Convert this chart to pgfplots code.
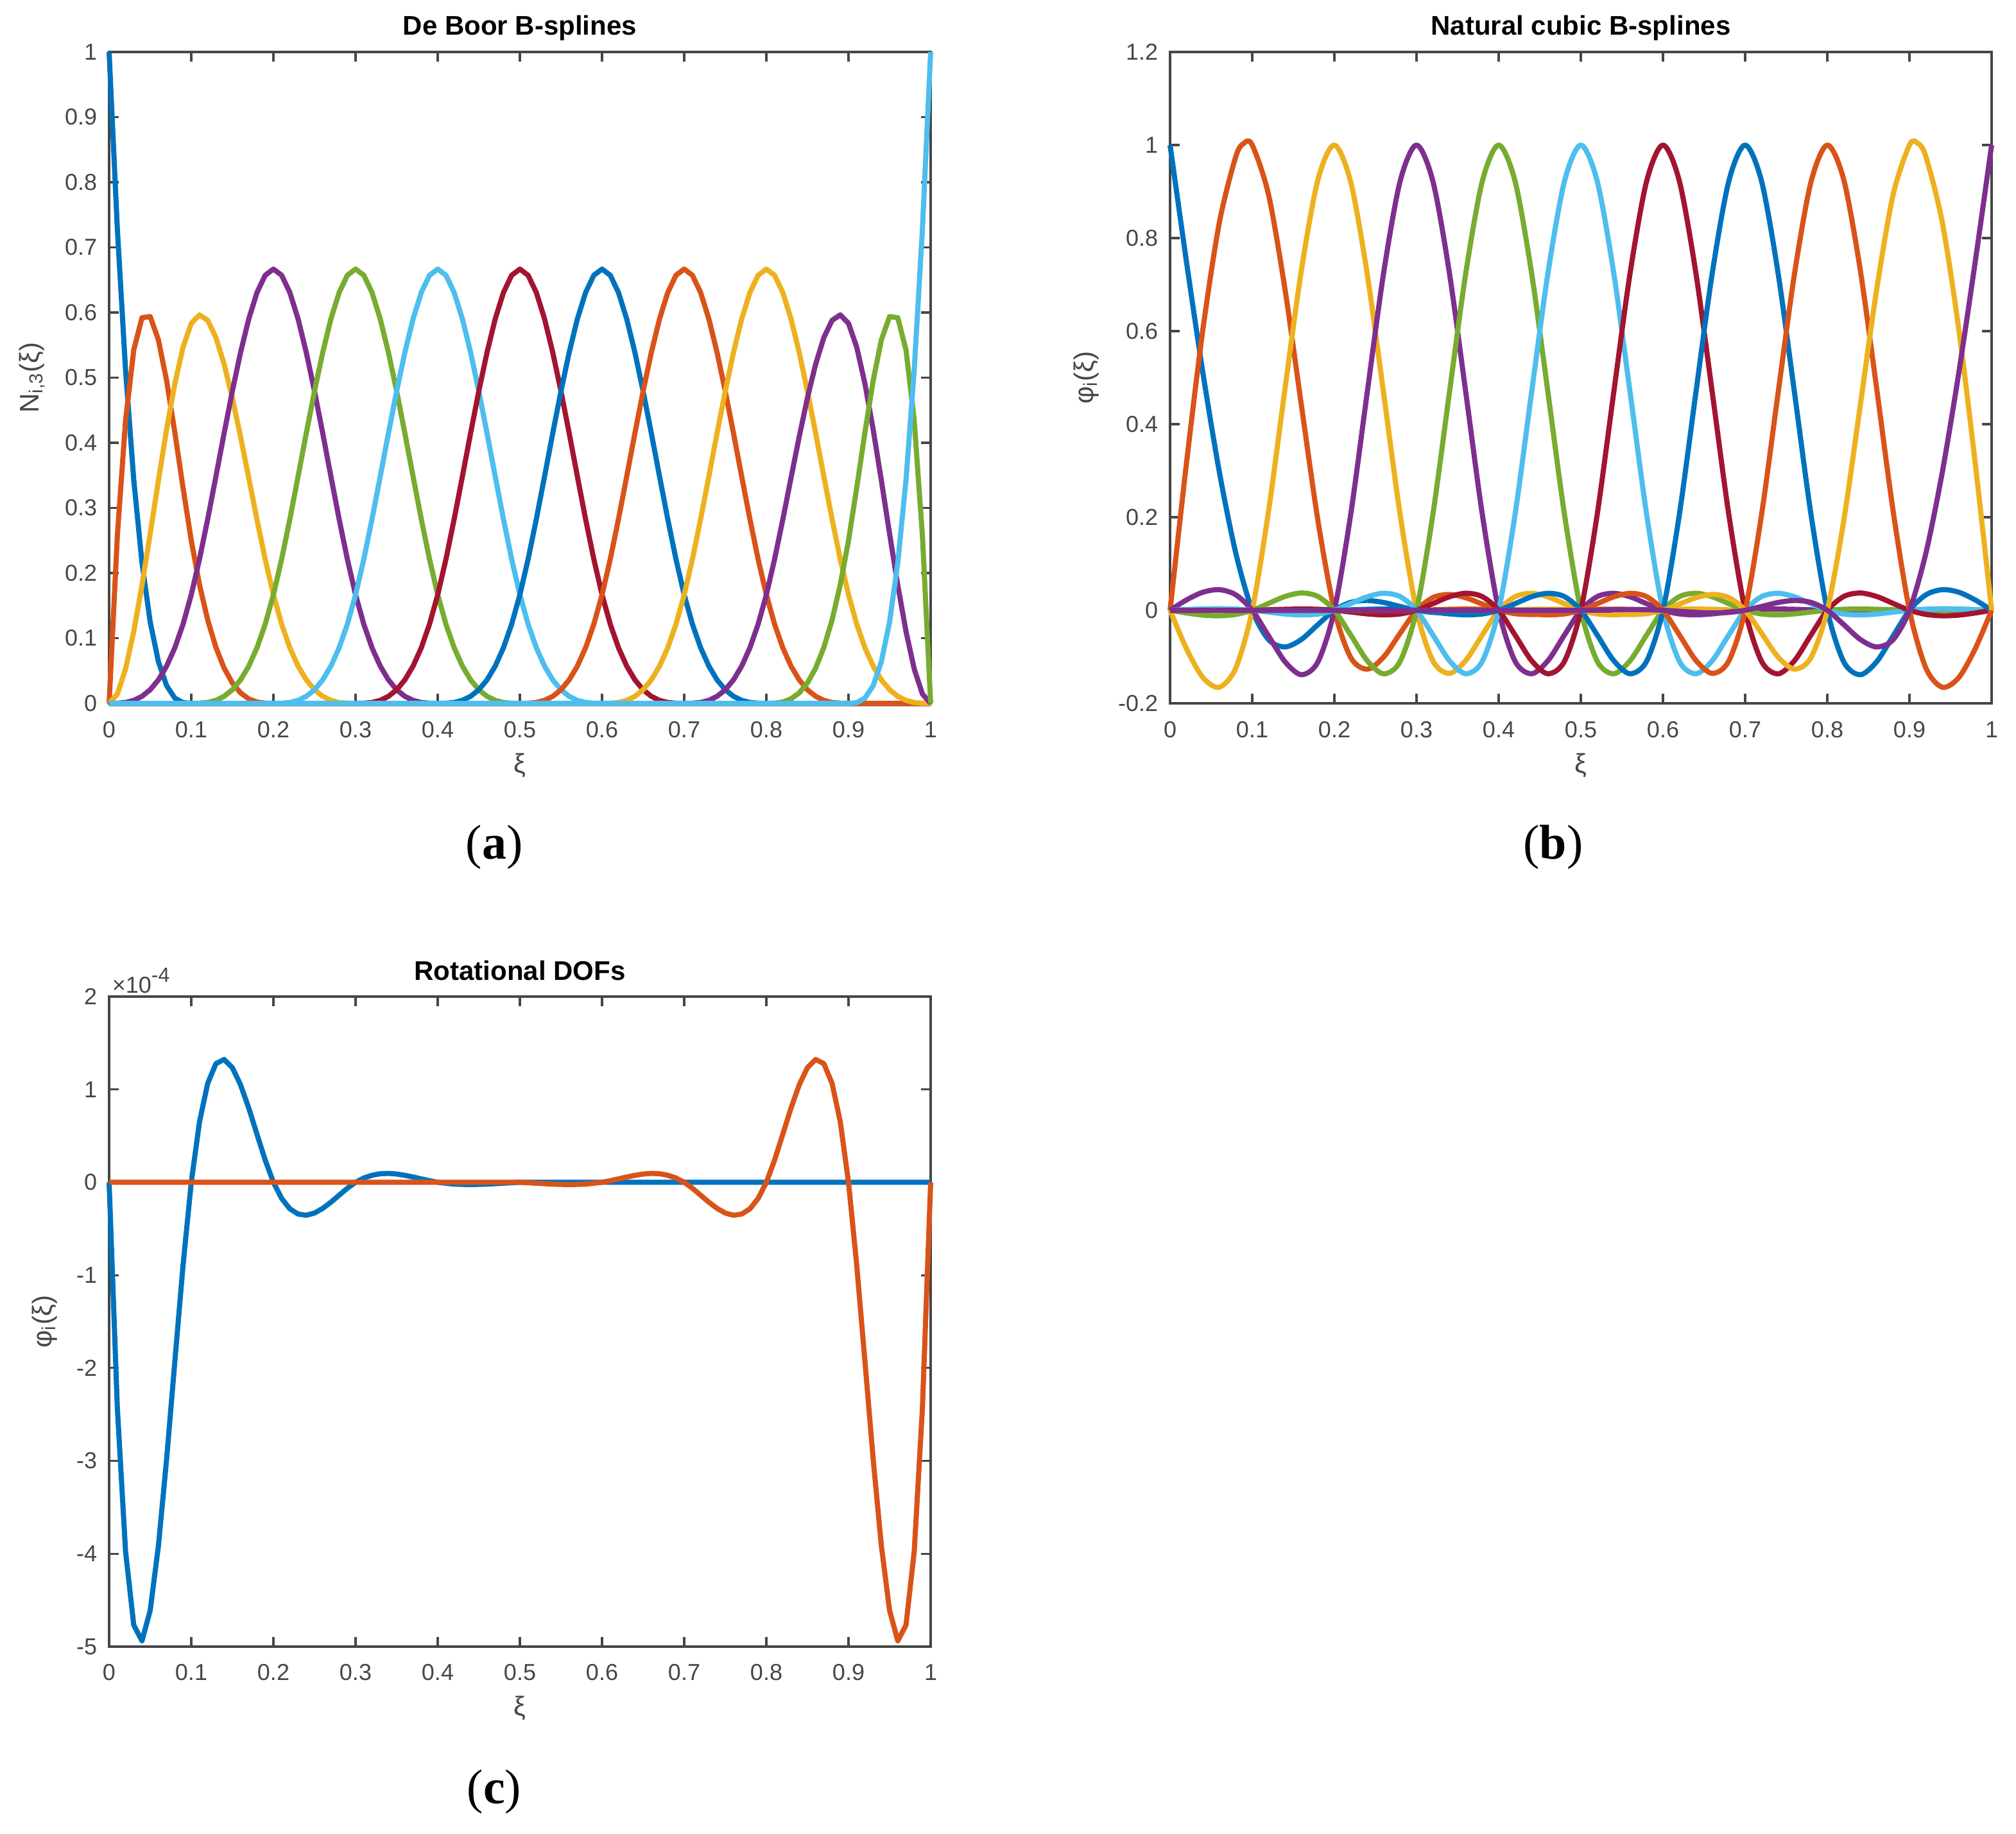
\documentclass[border=0pt]{standalone}
\usepackage{fontspec}
\setmainfont{Liberation Sans}
\newfontfamily\capfont{Liberation Serif}
\usepackage{pgfplots}
\pgfplotsset{compat=1.18}

\definecolor{c1}{RGB}{0,114,189}
\definecolor{c2}{RGB}{217,83,25}
\definecolor{c3}{RGB}{237,177,32}
\definecolor{c4}{RGB}{126,47,142}
\definecolor{c5}{RGB}{119,172,48}
\definecolor{c6}{RGB}{77,190,238}
\definecolor{c7}{RGB}{162,20,47}
\definecolor{axc}{RGB}{70,70,70}

\pgfplotsset{
  panel/.style={
    scale only axis, width=320pt, height=253.75pt, anchor=north west,
    xmin=0, xmax=1, clip=false,
    axis line style={axc,line width=0.8pt},
    tick style={axc,line width=0.8pt},
    tick align=inside, major tick length=3.75pt,
    xtick={0,0.1,0.2,0.3,0.4,0.5,0.6,0.7,0.8,0.9,1},
    xticklabels={0,0.1,0.2,0.3,0.4,0.5,0.6,0.7,0.8,0.9,1},
    tick label style={font=\fontsize{9}{10}\selectfont, text=axc},
    xticklabel style={anchor=base, yshift=-13.25pt},
    yticklabel style={anchor=east, inner sep=0pt, xshift=-4.5pt},
    label style={font=\fontsize{10.5}{12}\selectfont, text=axc},
    xlabel={ξ},
    xlabel style={at={(axis description cs:0.5,0)}, anchor=base, yshift=-27pt},
    title style={at={(axis description cs:0.5,1)}, anchor=base, yshift=0.5pt,
      font=\bfseries\fontsize{10.5}{12}\selectfont, text=black},
    every axis plot/.append style={line width=2pt, line join=round},
  }
}

\begin{document}
\begin{tikzpicture}
\path[use as bounding box] (0,0) rectangle (785.25pt,-714.5pt);

% (a) De Boor B-splines
\begin{axis}[panel, at={(42.5pt,-20.25pt)},
  title={De Boor B-splines},
  ymin=0, ymax=1,
  ytick={0,0.1,0.2,0.3,0.4,0.5,0.6,0.7,0.8,0.9,1},
  yticklabels={0,0.1,0.2,0.3,0.4,0.5,0.6,0.7,0.8,0.9,1},
  ylabel={N\textsubscript{i,3}(ξ)},
  ylabel style={at={(axis description cs:-0.0859,0.5)}, anchor=base}]
\addplot[c1] coordinates {(0,1)(0.01,0.729)(0.02,0.512)(0.03,0.343)(0.04,0.216)(0.05,0.125)(0.06,0.064)(0.07,0.027)(0.08,0.008)(0.09,0.001)(0.1,0)(1,0)};
\addplot[c2] coordinates {(0,0)(0.01,0.2568)(0.02,0.434)(0.03,0.5423)(0.04,0.592)(0.05,0.5938)(0.06,0.558)(0.07,0.4953)(0.08,0.416)(0.09,0.3308)(0.1,0.25)(0.11,0.1823)(0.12,0.128)(0.13,0.0858)(0.14,0.054)(0.15,0.0313)(0.16,0.016)(0.17,0.0068)(0.18,0.002)(0.19,0.0003)(0.2,0)(1,0)};
\addplot[c3] coordinates {(0,0)(0.01,0.0141)(0.02,0.0527)(0.03,0.1103)(0.04,0.1813)(0.05,0.2604)(0.06,0.342)(0.07,0.4206)(0.08,0.4907)(0.09,0.5468)(0.1,0.5833)(0.11,0.5964)(0.12,0.588)(0.13,0.5616)(0.14,0.5207)(0.15,0.4688)(0.16,0.4093)(0.17,0.3459)(0.18,0.282)(0.19,0.2211)(0.2,0.1667)(0.21,0.1215)(0.22,0.0853)(0.23,0.0572)(0.24,0.036)(0.25,0.0208)(0.26,0.0107)(0.27,0.0045)(0.28,0.0013)(0.29,0.0002)(0.3,0)(1,0)};
\addplot[c4] coordinates {(0,0)(0.01,0.0002)(0.02,0.0013)(0.03,0.0045)(0.04,0.0107)(0.05,0.0208)(0.06,0.036)(0.07,0.0572)(0.08,0.0853)(0.09,0.1215)(0.1,0.1667)(0.11,0.2212)(0.12,0.2827)(0.13,0.3482)(0.14,0.4147)(0.15,0.4792)(0.16,0.5387)(0.17,0.5902)(0.18,0.6307)(0.19,0.6572)(0.2,0.6667)(0.21,0.6572)(0.22,0.6307)(0.23,0.5902)(0.24,0.5387)(0.25,0.4792)(0.26,0.4147)(0.27,0.3482)(0.28,0.2827)(0.29,0.2212)(0.3,0.1667)(0.31,0.1215)(0.32,0.0853)(0.33,0.0572)(0.34,0.036)(0.35,0.0208)(0.36,0.0107)(0.37,0.0045)(0.38,0.0013)(0.39,0.0002)(0.4,0)(1,0)};
\addplot[c5] coordinates {(0,0)(0.1,0)(0.11,0.0002)(0.12,0.0013)(0.13,0.0045)(0.14,0.0107)(0.15,0.0208)(0.16,0.036)(0.17,0.0572)(0.18,0.0853)(0.19,0.1215)(0.2,0.1667)(0.21,0.2212)(0.22,0.2827)(0.23,0.3482)(0.24,0.4147)(0.25,0.4792)(0.26,0.5387)(0.27,0.5902)(0.28,0.6307)(0.29,0.6572)(0.3,0.6667)(0.31,0.6572)(0.32,0.6307)(0.33,0.5902)(0.34,0.5387)(0.35,0.4792)(0.36,0.4147)(0.37,0.3482)(0.38,0.2827)(0.39,0.2212)(0.4,0.1667)(0.41,0.1215)(0.42,0.0853)(0.43,0.0572)(0.44,0.036)(0.45,0.0208)(0.46,0.0107)(0.47,0.0045)(0.48,0.0013)(0.49,0.0002)(0.5,0)(1,0)};
\addplot[c6] coordinates {(0,0)(0.2,0)(0.21,0.0002)(0.22,0.0013)(0.23,0.0045)(0.24,0.0107)(0.25,0.0208)(0.26,0.036)(0.27,0.0572)(0.28,0.0853)(0.29,0.1215)(0.3,0.1667)(0.31,0.2212)(0.32,0.2827)(0.33,0.3482)(0.34,0.4147)(0.35,0.4792)(0.36,0.5387)(0.37,0.5902)(0.38,0.6307)(0.39,0.6572)(0.4,0.6667)(0.41,0.6572)(0.42,0.6307)(0.43,0.5902)(0.44,0.5387)(0.45,0.4792)(0.46,0.4147)(0.47,0.3482)(0.48,0.2827)(0.49,0.2212)(0.5,0.1667)(0.51,0.1215)(0.52,0.0853)(0.53,0.0572)(0.54,0.036)(0.55,0.0208)(0.56,0.0107)(0.57,0.0045)(0.58,0.0013)(0.59,0.0002)(0.6,0)(1,0)};
\addplot[c7] coordinates {(0,0)(0.3,0)(0.31,0.0002)(0.32,0.0013)(0.33,0.0045)(0.34,0.0107)(0.35,0.0208)(0.36,0.036)(0.37,0.0572)(0.38,0.0853)(0.39,0.1215)(0.4,0.1667)(0.41,0.2212)(0.42,0.2827)(0.43,0.3482)(0.44,0.4147)(0.45,0.4792)(0.46,0.5387)(0.47,0.5902)(0.48,0.6307)(0.49,0.6572)(0.5,0.6667)(0.51,0.6572)(0.52,0.6307)(0.53,0.5902)(0.54,0.5387)(0.55,0.4792)(0.56,0.4147)(0.57,0.3482)(0.58,0.2827)(0.59,0.2212)(0.6,0.1667)(0.61,0.1215)(0.62,0.0853)(0.63,0.0572)(0.64,0.036)(0.65,0.0208)(0.66,0.0107)(0.67,0.0045)(0.68,0.0013)(0.69,0.0002)(0.7,0)(1,0)};
\addplot[c1] coordinates {(0,0)(0.4,0)(0.41,0.0002)(0.42,0.0013)(0.43,0.0045)(0.44,0.0107)(0.45,0.0208)(0.46,0.036)(0.47,0.0572)(0.48,0.0853)(0.49,0.1215)(0.5,0.1667)(0.51,0.2212)(0.52,0.2827)(0.53,0.3482)(0.54,0.4147)(0.55,0.4792)(0.56,0.5387)(0.57,0.5902)(0.58,0.6307)(0.59,0.6572)(0.6,0.6667)(0.61,0.6572)(0.62,0.6307)(0.63,0.5902)(0.64,0.5387)(0.65,0.4792)(0.66,0.4147)(0.67,0.3482)(0.68,0.2827)(0.69,0.2212)(0.7,0.1667)(0.71,0.1215)(0.72,0.0853)(0.73,0.0572)(0.74,0.036)(0.75,0.0208)(0.76,0.0107)(0.77,0.0045)(0.78,0.0013)(0.79,0.0002)(0.8,0)(1,0)};
\addplot[c2] coordinates {(0,0)(0.5,0)(0.51,0.0002)(0.52,0.0013)(0.53,0.0045)(0.54,0.0107)(0.55,0.0208)(0.56,0.036)(0.57,0.0572)(0.58,0.0853)(0.59,0.1215)(0.6,0.1667)(0.61,0.2212)(0.62,0.2827)(0.63,0.3482)(0.64,0.4147)(0.65,0.4792)(0.66,0.5387)(0.67,0.5902)(0.68,0.6307)(0.69,0.6572)(0.7,0.6667)(0.71,0.6572)(0.72,0.6307)(0.73,0.5902)(0.74,0.5387)(0.75,0.4792)(0.76,0.4147)(0.77,0.3482)(0.78,0.2827)(0.79,0.2212)(0.8,0.1667)(0.81,0.1215)(0.82,0.0853)(0.83,0.0572)(0.84,0.036)(0.85,0.0208)(0.86,0.0107)(0.87,0.0045)(0.88,0.0013)(0.89,0.0002)(0.9,0)(1,0)};
\addplot[c3] coordinates {(0,0)(0.6,0)(0.61,0.0002)(0.62,0.0013)(0.63,0.0045)(0.64,0.0107)(0.65,0.0208)(0.66,0.036)(0.67,0.0572)(0.68,0.0853)(0.69,0.1215)(0.7,0.1667)(0.71,0.2212)(0.72,0.2827)(0.73,0.3482)(0.74,0.4147)(0.75,0.4792)(0.76,0.5387)(0.77,0.5902)(0.78,0.6307)(0.79,0.6572)(0.8,0.6667)(0.81,0.6572)(0.82,0.6307)(0.83,0.5902)(0.84,0.5387)(0.85,0.4792)(0.86,0.4147)(0.87,0.3482)(0.88,0.2827)(0.89,0.2212)(0.9,0.1667)(0.91,0.1215)(0.92,0.0853)(0.93,0.0572)(0.94,0.036)(0.95,0.0208)(0.96,0.0107)(0.97,0.0045)(0.98,0.0013)(0.99,0.0002)(1,0)};
\addplot[c4] coordinates {(0,0)(0.7,0)(0.71,0.0002)(0.72,0.0013)(0.73,0.0045)(0.74,0.0107)(0.75,0.0208)(0.76,0.036)(0.77,0.0572)(0.78,0.0853)(0.79,0.1215)(0.8,0.1667)(0.81,0.2211)(0.82,0.282)(0.83,0.3459)(0.84,0.4093)(0.85,0.4688)(0.86,0.5207)(0.87,0.5616)(0.88,0.588)(0.89,0.5964)(0.9,0.5833)(0.91,0.5468)(0.92,0.4907)(0.93,0.4206)(0.94,0.342)(0.95,0.2604)(0.96,0.1813)(0.97,0.1103)(0.98,0.0527)(0.99,0.0141)(1,0)};
\addplot[c5] coordinates {(0,0)(0.8,0)(0.81,0.0003)(0.82,0.002)(0.83,0.0068)(0.84,0.016)(0.85,0.0313)(0.86,0.054)(0.87,0.0858)(0.88,0.128)(0.89,0.1823)(0.9,0.25)(0.91,0.3308)(0.92,0.416)(0.93,0.4953)(0.94,0.558)(0.95,0.5938)(0.96,0.592)(0.97,0.5423)(0.98,0.434)(0.99,0.2568)(1,0)};
\addplot[c6] coordinates {(0,0)(0.9,0)(0.91,0.001)(0.92,0.008)(0.93,0.027)(0.94,0.064)(0.95,0.125)(0.96,0.216)(0.97,0.343)(0.98,0.512)(0.99,0.729)(1,1)};
\end{axis}

% (b) Natural cubic B-splines
\begin{axis}[panel, at={(455.75pt,-20.25pt)},
  title={Natural cubic B-splines},
  ymin=-0.2, ymax=1.2,
  ytick={-0.2,0,0.2,0.4,0.6,0.8,1,1.2},
  yticklabels={-0.2,0,0.2,0.4,0.6,0.8,1,1.2},
  ylabel={φ\textsubscript{i}(ξ)},
  ylabel style={at={(axis description cs:-0.09375,0.5)}, anchor=base}]
\addplot[c1,smooth] coordinates {(0,1)(0.02,0.7486)(0.04,0.51)(0.06,0.2971)(0.08,0.1228)(0.1,0)(0.12,-0.0634)(0.14,-0.0788)(0.16,-0.0625)(0.18,-0.0308)(0.2,0)(0.22,0.017)(0.24,0.0211)(0.26,0.0167)(0.28,0.0082)(0.3,0)(0.32,-0.0046)(0.34,-0.0057)(0.36,-0.0045)(0.38,-0.0022)(0.4,0)(0.42,0.0012)(0.44,0.0015)(0.46,0.0012)(0.48,0.0006)(0.5,0)(1,0)};
\addplot[c2,smooth] coordinates {(0,0)(0.02,0.3167)(0.04,0.6042)(0.06,0.8334)(0.08,0.975)(0.09,1.0039)(0.1,1)(0.12,0.8923)(0.14,0.6886)(0.16,0.4388)(0.18,0.1926)(0.2,0)(0.22,-0.1019)(0.24,-0.1266)(0.26,-0.1004)(0.28,-0.0495)(0.3,0)(0.32,0.0273)(0.34,0.0339)(0.36,0.0269)(0.38,0.0133)(0.4,0)(0.42,-0.0073)(0.44,-0.0091)(0.46,-0.0072)(0.48,-0.0036)(0.5,0)(0.52,0.002)(0.54,0.0024)(0.56,0.0019)(0.58,0.001)(0.6,0)(1,0)};
\addplot[c3,smooth] coordinates {(0,0)(0.02,-0.0827)(0.04,-0.1447)(0.06,-0.1654)(0.08,-0.1241)(0.1,0)(0.12,0.2148)(0.14,0.4776)(0.16,0.7329)(0.18,0.9256)(0.2,1)(0.22,0.9196)(0.24,0.7225)(0.26,0.4657)(0.28,0.2059)(0.3,0)(0.32,-0.1092)(0.34,-0.1357)(0.36,-0.1076)(0.38,-0.053)(0.4,0)(0.42,0.0293)(0.44,0.0364)(0.46,0.0288)(0.48,0.0142)(0.5,0)(0.52,-0.0078)(0.54,-0.0098)(0.56,-0.0077)(0.58,-0.0038)(0.6,0)(0.62,0.0021)(0.64,0.0026)(0.66,0.0021)(0.68,0.001)(0.7,0)(1,0)};
\addplot[c4,smooth] coordinates {(0,0)(0.02,0.0222)(0.04,0.0388)(0.06,0.0443)(0.08,0.0332)(0.1,0)(0.12,-0.0554)(0.14,-0.1108)(0.16,-0.1385)(0.18,-0.1108)(0.2,0)(0.22,0.2075)(0.24,0.4685)(0.26,0.7257)(0.28,0.922)(0.3,1)(0.32,0.9216)(0.34,0.725)(0.36,0.4676)(0.38,0.2068)(0.4,0)(0.42,-0.1097)(0.44,-0.1364)(0.46,-0.1082)(0.48,-0.0533)(0.5,0)(0.52,0.0294)(0.54,0.0365)(0.56,0.029)(0.58,0.0143)(0.6,0)(0.62,-0.0079)(0.64,-0.0098)(0.66,-0.0078)(0.68,-0.0038)(0.7,0)(0.72,0.0021)(0.74,0.0026)(0.76,0.0021)(0.78,0.001)(0.8,0)(1,0)};
\addplot[c5,smooth] coordinates {(0,0)(0.02,-0.0059)(0.04,-0.0104)(0.06,-0.0119)(0.08,-0.0089)(0.1,0)(0.12,0.0148)(0.14,0.0297)(0.16,0.0371)(0.18,0.0297)(0.2,0)(0.22,-0.0534)(0.24,-0.1084)(0.26,-0.1366)(0.28,-0.1099)(0.3,0)(0.32,0.2069)(0.34,0.4678)(0.36,0.7252)(0.38,0.9218)(0.4,1)(0.42,0.9217)(0.44,0.7252)(0.46,0.4677)(0.48,0.2069)(0.5,0)(0.52,-0.1098)(0.54,-0.1364)(0.56,-0.1082)(0.58,-0.0533)(0.6,0)(0.62,0.0294)(0.64,0.0366)(0.66,0.029)(0.68,0.0143)(0.7,0)(0.72,-0.0079)(0.74,-0.0098)(0.76,-0.0078)(0.78,-0.0038)(0.8,0)(0.82,0.0021)(0.84,0.0027)(0.86,0.0021)(0.88,0.0011)(0.9,0)(1,0)};
\addplot[c6,smooth] coordinates {(0,0)(0.02,0.0016)(0.04,0.0028)(0.06,0.0032)(0.08,0.0024)(0.1,0)(0.12,-0.004)(0.14,-0.008)(0.16,-0.01)(0.18,-0.008)(0.2,0)(0.22,0.0143)(0.24,0.029)(0.26,0.0366)(0.28,0.0294)(0.3,0)(0.32,-0.0533)(0.34,-0.1082)(0.36,-0.1364)(0.38,-0.1098)(0.4,0)(0.42,0.2069)(0.44,0.4678)(0.46,0.7252)(0.48,0.9217)(0.5,1)(0.52,0.9217)(0.54,0.7252)(0.56,0.4678)(0.58,0.2069)(0.6,0)(0.62,-0.1098)(0.64,-0.1364)(0.66,-0.1082)(0.68,-0.0533)(0.7,0)(0.72,0.0294)(0.74,0.0366)(0.76,0.029)(0.78,0.0143)(0.8,0)(0.82,-0.008)(0.84,-0.01)(0.86,-0.008)(0.88,-0.004)(0.9,0)(0.92,0.0024)(0.94,0.0032)(0.96,0.0028)(0.98,0.0016)(1,0)};
\addplot[c7,smooth] coordinates {(0,0)(0.1,0)(0.12,0.0011)(0.14,0.0021)(0.16,0.0027)(0.18,0.0021)(0.2,0)(0.22,-0.0038)(0.24,-0.0078)(0.26,-0.0098)(0.28,-0.0079)(0.3,0)(0.32,0.0143)(0.34,0.029)(0.36,0.0366)(0.38,0.0294)(0.4,0)(0.42,-0.0533)(0.44,-0.1082)(0.46,-0.1364)(0.48,-0.1098)(0.5,0)(0.52,0.2069)(0.54,0.4677)(0.56,0.7252)(0.58,0.9217)(0.6,1)(0.62,0.9218)(0.64,0.7252)(0.66,0.4678)(0.68,0.2069)(0.7,0)(0.72,-0.1099)(0.74,-0.1366)(0.76,-0.1084)(0.78,-0.0534)(0.8,0)(0.82,0.0297)(0.84,0.0371)(0.86,0.0297)(0.88,0.0148)(0.9,0)(0.92,-0.0089)(0.94,-0.0119)(0.96,-0.0104)(0.98,-0.0059)(1,0)};
\addplot[c1,smooth] coordinates {(0,0)(0.2,0)(0.22,0.001)(0.24,0.0021)(0.26,0.0026)(0.28,0.0021)(0.3,0)(0.32,-0.0038)(0.34,-0.0078)(0.36,-0.0098)(0.38,-0.0079)(0.4,0)(0.42,0.0143)(0.44,0.029)(0.46,0.0365)(0.48,0.0294)(0.5,0)(0.52,-0.0533)(0.54,-0.1082)(0.56,-0.1364)(0.58,-0.1097)(0.6,0)(0.62,0.2068)(0.64,0.4676)(0.66,0.725)(0.68,0.9216)(0.7,1)(0.72,0.922)(0.74,0.7257)(0.76,0.4685)(0.78,0.2075)(0.8,0)(0.82,-0.1108)(0.84,-0.1385)(0.86,-0.1108)(0.88,-0.0554)(0.9,0)(0.92,0.0332)(0.94,0.0443)(0.96,0.0388)(0.98,0.0222)(1,0)};
\addplot[c2,smooth] coordinates {(0,0)(0.3,0)(0.32,0.001)(0.34,0.0021)(0.36,0.0026)(0.38,0.0021)(0.4,0)(0.42,-0.0038)(0.44,-0.0077)(0.46,-0.0098)(0.48,-0.0078)(0.5,0)(0.52,0.0142)(0.54,0.0288)(0.56,0.0364)(0.58,0.0293)(0.6,0)(0.62,-0.053)(0.64,-0.1076)(0.66,-0.1357)(0.68,-0.1092)(0.7,0)(0.72,0.2059)(0.74,0.4657)(0.76,0.7225)(0.78,0.9196)(0.8,1)(0.82,0.9256)(0.84,0.7329)(0.86,0.4776)(0.88,0.2148)(0.9,0)(0.92,-0.1241)(0.94,-0.1654)(0.96,-0.1447)(0.98,-0.0827)(1,0)};
\addplot[c3,smooth] coordinates {(0,0)(0.4,0)(0.42,0.001)(0.44,0.0019)(0.46,0.0024)(0.48,0.002)(0.5,0)(0.52,-0.0036)(0.54,-0.0072)(0.56,-0.0091)(0.58,-0.0073)(0.6,0)(0.62,0.0133)(0.64,0.0269)(0.66,0.0339)(0.68,0.0273)(0.7,0)(0.72,-0.0495)(0.74,-0.1004)(0.76,-0.1266)(0.78,-0.1019)(0.8,0)(0.82,0.1926)(0.84,0.4388)(0.86,0.6886)(0.88,0.8923)(0.9,1)(0.91,1.0039)(0.92,0.975)(0.94,0.8334)(0.96,0.6042)(0.98,0.3167)(1,0)};
\addplot[c4,smooth] coordinates {(0,0)(0.5,0)(0.52,0.0006)(0.54,0.0012)(0.56,0.0015)(0.58,0.0012)(0.6,0)(0.62,-0.0022)(0.64,-0.0045)(0.66,-0.0057)(0.68,-0.0046)(0.7,0)(0.72,0.0082)(0.74,0.0167)(0.76,0.0211)(0.78,0.017)(0.8,0)(0.82,-0.0308)(0.84,-0.0625)(0.86,-0.0788)(0.88,-0.0634)(0.9,0)(0.92,0.1228)(0.94,0.2971)(0.96,0.51)(0.98,0.7486)(1,1)};
\end{axis}

% (c) Rotational DOFs (values in units of 1e-4)
\begin{axis}[panel, at={(42.5pt,-388.25pt)}, height=253.25pt,
  title={Rotational DOFs},
  ymin=-5, ymax=2,
  ytick={-5,-4,-3,-2,-1,0,1,2},
  yticklabels={-5,-4,-3,-2,-1,0,1,2},
  ylabel={φ\textsubscript{i}(ξ)},
  ylabel style={at={(axis description cs:-0.0703,0.5)}, anchor=base}]
\addplot[c1] coordinates {(0,0)(0.01,-2.427)(0.02,-3.974)(0.03,-4.768)(0.04,-4.938)(0.05,-4.611)(0.06,-3.916)(0.07,-2.98)(0.08,-1.929)(0.09,-0.893)(0.1,0)(0.11,0.65)(0.12,1.065)(0.13,1.278)(0.14,1.323)(0.15,1.235)(0.16,1.049)(0.17,0.799)(0.18,0.517)(0.19,0.239)(0.2,0)(0.21,-0.174)(0.22,-0.286)(0.23,-0.342)(0.24,-0.355)(0.25,-0.331)(0.26,-0.281)(0.27,-0.214)(0.28,-0.139)(0.29,-0.064)(0.3,0)(0.31,0.046)(0.32,0.076)(0.33,0.092)(0.34,0.096)(0.35,0.089)(0.36,0.075)(0.37,0.057)(0.38,0.037)(0.39,0.017)(0.4,0)(0.42,-0.02)(0.44,-0.025)(0.46,-0.02)(0.48,-0.01)(0.5,0)(1,0)};
\addplot[c2] coordinates {(0,0)(0.5,0)(0.52,-0.01)(0.54,-0.02)(0.56,-0.025)(0.58,-0.02)(0.6,0)(0.61,0.017)(0.62,0.037)(0.63,0.057)(0.64,0.075)(0.65,0.089)(0.66,0.096)(0.67,0.092)(0.68,0.076)(0.69,0.046)(0.7,0)(0.71,-0.064)(0.72,-0.139)(0.73,-0.214)(0.74,-0.281)(0.75,-0.331)(0.76,-0.355)(0.77,-0.342)(0.78,-0.286)(0.79,-0.174)(0.8,0)(0.81,0.239)(0.82,0.517)(0.83,0.799)(0.84,1.049)(0.85,1.235)(0.86,1.323)(0.87,1.278)(0.88,1.065)(0.89,0.65)(0.9,0)(0.91,-0.893)(0.92,-1.929)(0.93,-2.98)(0.94,-3.916)(0.95,-4.611)(0.96,-4.938)(0.97,-4.768)(0.98,-3.974)(0.99,-2.427)(1,0)};
\node[anchor=base west, inner sep=0pt, xshift=1pt, yshift=1.5pt, text=axc, font=\fontsize{9}{10}\selectfont]
  at (rel axis cs:0,1) {×10\raisebox{4.25pt}{\fontsize{8}{9}\selectfont -4}};
\end{axis}

\node[font=\capfont\fontsize{19}{22}\selectfont] at (192.5pt,-330pt) {(\textbf{a})};
\node[font=\capfont\fontsize{19}{22}\selectfont] at (605pt,-330pt) {(\textbf{b})};
\node[font=\capfont\fontsize{19}{22}\selectfont] at (192.5pt,-698pt) {(\textbf{c})};
\end{tikzpicture}
\end{document}
